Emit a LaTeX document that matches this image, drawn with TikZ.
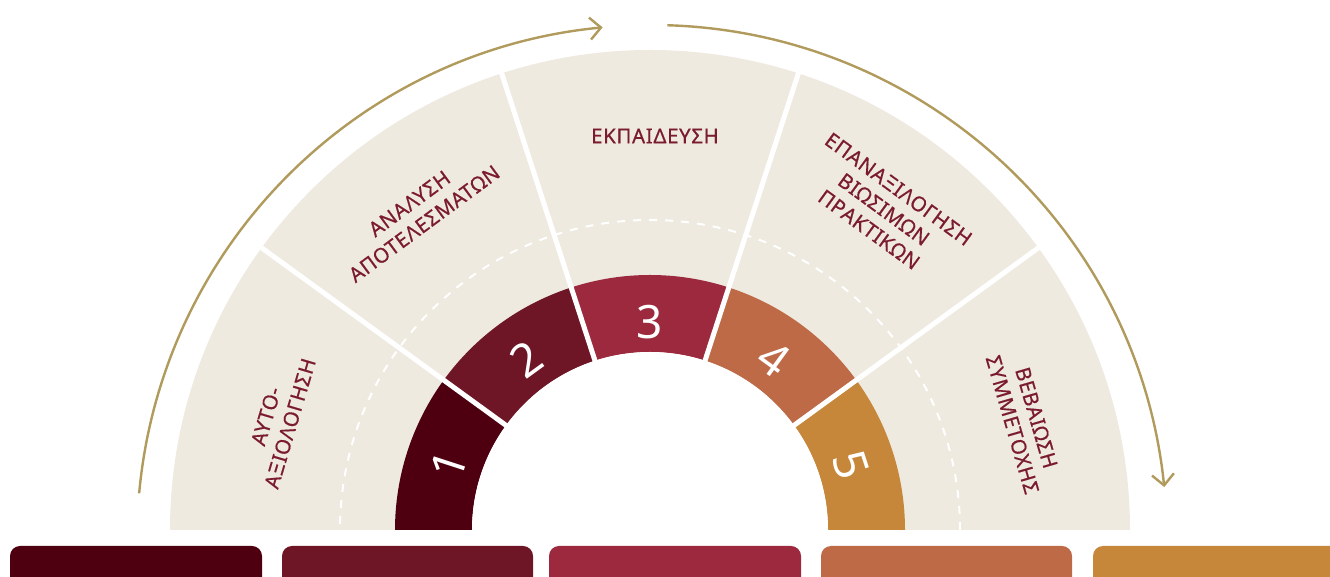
\documentclass[tikz,border=0pt]{standalone}
\usepackage{fontspec}
\setmainfont{Noto Sans}
\usetikzlibrary{arrows.meta,calc}
\definecolor{cone}{HTML}{4E0011}
\definecolor{ctwo}{HTML}{6E1626}
\definecolor{cthree}{HTML}{9C293D}
\definecolor{cfour}{HTML}{BE6A46}
\definecolor{cfive}{HTML}{C6873A}
\definecolor{beige}{HTML}{EEEAE0}
\definecolor{txtc}{HTML}{7B1B2F}
\definecolor{gold}{HTML}{B09A5C}
\begin{document}
\begin{tikzpicture}[x=1pt,y=1pt,
  lbl/.style={text=txtc, font=\fontsize{20.5}{25}\selectfont\addfontfeature{LetterSpace=3,FakeBold=0.5}, align=center, inner sep=0pt},
  num/.style={text=white, font=\fontsize{46}{46}\selectfont, inner sep=0pt},
  sepline/.style={white, line width=5pt},
  flow/.style={gold, line width=2.4pt, -{Straight Barb[length=11pt,width=22pt,line width=2.4pt]}},
  barbox/.style={rounded corners=10pt}]
\useasboundingbox (0,0) rectangle (1330,577);
\clip (0,0) rectangle (1330,577);
\coordinate (C) at (650,47);
% beige fan
\fill[beige] ($(C)+(480,0)$) arc[start angle=0,end angle=180,radius=480] -- cycle;
% dashed circle
\draw[white, line width=2pt, dash pattern=on 8pt off 8pt] ($(C)+(310,0)$) arc[start angle=0,end angle=180,radius=310];
% coloured ring
\foreach \i/\c in {1/cone,2/ctwo,3/cthree,4/cfour,5/cfive}{
  \pgfmathsetmacro{\aa}{180-36*(\i-1)}
  \pgfmathsetmacro{\ab}{180-36*\i}
  \fill[\c] ($(C)+(\aa:255)$) arc[start angle=\aa,end angle=\ab,radius=255]
     -- ($(C)+(\ab:178)$) arc[start angle=\ab,end angle=\aa,radius=178] -- cycle;
}
\fill[white] ($(C)+(178,0)$) arc[start angle=0,end angle=180,radius=178] -- cycle;
% separators
\foreach \a in {36,72,108,144}{
  \draw[sepline] ($(C)+(\a:176)$) -- ($(C)+(\a:486)$);
}
% numbers
\node[num, rotate=72]  (n1) at ($(C)+(162:211)$) {1};
\node[num, rotate=36]  (n2) at ($(C)+(126:211)$) {2};
\node[num]             (n3) at ($(C)+(90:208)$) {3};
\node[num, rotate=-36] (n4) at ($(C)+(54:211)$) {4};
\node[num, rotate=-72] (n5) at ($(C)+(18:211)$) {5};
% labels
\node[lbl, rotate=73.5]  (l1) at ($(C)+(163.5:388)$) {ΑΥΤΟ-\\ΑΞΙΟΛΟΓΗΣΗ};
\node[lbl, rotate=36.4]  (l2) at ($(C)+(126.4:393)$) {ΑΝΑΛΥΣΗ\\ΑΠΟΤΕΛΕΣΜΑΤΩΝ};
\node[lbl]               (l3) at ($(C)+(5,394)$) {ΕΚΠΑΙΔΕΥΣΗ};
\node[lbl, rotate=-36.1] (l4) at ($(C)+(53.9:397)$) {ΕΠΑΝΑΞΙΛΟΓΗΣΗ\\ΒΙΩΣΙΜΩΝ\\ΠΡΑΚΤΙΚΩΝ};
\node[lbl, rotate=-73.8] (l5) at ($(C)+(16.2:390)$) {ΒΕΒΑΙΩΣΗ\\ΣΥΜΜΕΤΟΧΗΣ};
% flow arrows
\coordinate (A) at (652,37);
\draw[flow] ($(A)+(174.8:515)$) arc[start angle=174.8,end angle=95.5,radius=515];
\draw[flow] ($(A)+(88.3:515)$) arc[start angle=88.3,end angle=5.9,radius=515];
% bars
\fill[cone,barbox]   (10,31) rectangle (262,-20);
\fill[ctwo,barbox]   (282,31) rectangle (533,-20);
\fill[cthree,barbox] (549,31) rectangle (801,-20);
\fill[cfour,barbox]  (821,31) rectangle (1072,-20);
\fill[cfive,barbox]  (1093,31) rectangle (1360,-20);
\end{tikzpicture}
\end{document}
